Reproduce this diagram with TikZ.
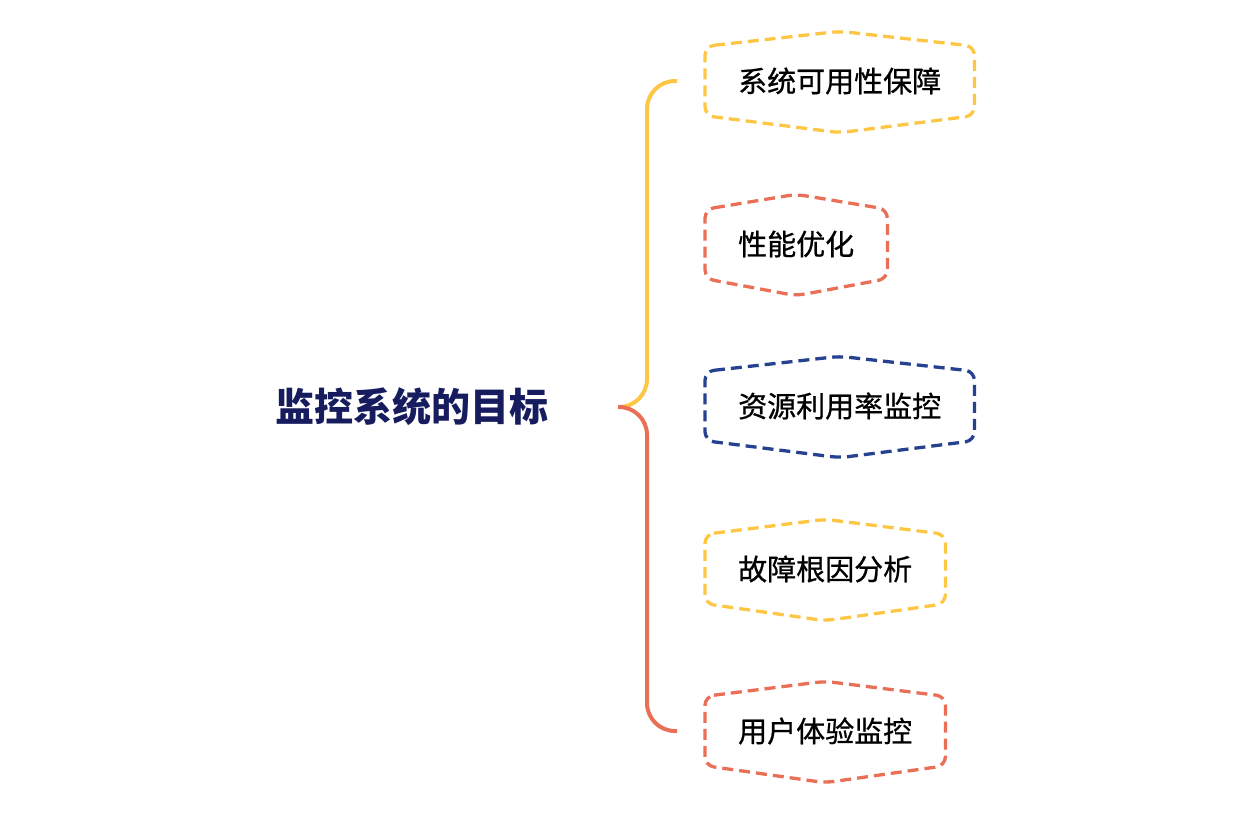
\documentclass[tikz,border=0pt]{standalone}
\usepackage{fontspec}
\setmainfont{Noto Sans CJK SC}
\newfontfamily\goalfont{Noto Sans CJK SC}[FakeBold=0.8]
\definecolor{goalyellow}{HTML}{FDC745}
\definecolor{goalred}{HTML}{E96F57}
\definecolor{goalblue}{HTML}{26418F}
\definecolor{goalnavy}{HTML}{161C5E}
\tikzset{
  goalbox/.style={anchor=west,inner xsep=33pt,inner ysep=0pt,minimum height=69pt,
    font=\goalfont\fontsize{29}{29}\selectfont,text=black},
  hexdash/.style={line width=3.3pt,dash pattern=on 11pt off 6pt,rounded corners=9pt},
  branch/.style={line width=4pt,rounded corners=28pt},
}
\begin{document}
\begin{tikzpicture}[x=1pt,y=-1pt]
  \useasboundingbox (0,0) rectangle (1234,820);
  % Root
  \node[text=goalnavy,font=\fontsize{39}{39}\selectfont\bfseries] (root) at (412,407) {监控系统的目标};
  \coordinate (j) at (618,407);
  % Goals
  \node[goalbox] (g1) at (705,81) {系统可用性保障};
  \node[goalbox] (g2) at (705,244) {性能优化};
  \node[goalbox] (g3) at (705,406) {资源利用率监控};
  \node[goalbox] (g4) at (705,569) {故障根因分析};
  \node[goalbox] (g5) at (705,731) {用户体验监控};
  % Dashed outlines
  \foreach \g/\c in {g1/goalyellow,g2/goalred,g3/goalblue,g4/goalyellow,g5/goalred}
    \draw[hexdash,\c] (\g.north west) -- ([yshift=15pt]\g.north) -- (\g.north east)
      -- (\g.south east) -- ([yshift=-17pt]\g.south) -- (\g.south west) -- cycle;
  % Brace
  \draw[branch,goalyellow] (j) -- ++(29,0) |- ([xshift=-28pt]g1.west);
  \draw[branch,goalred] (j) -- ++(29,0) |- ([xshift=-28pt]g5.west);
\end{tikzpicture}
\end{document}
